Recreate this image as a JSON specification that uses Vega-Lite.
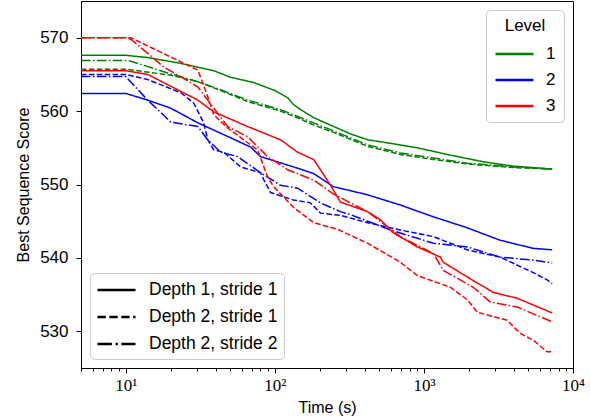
{
  "$schema": "https://vega.github.io/schema/vega-lite/v6.json",
  "autosize": "none",
  "width": 492,
  "height": 367,
  "padding": {"left": 81, "top": 1, "right": 17, "bottom": 51},
  "background": "white",
  "config": {
    "view": {"stroke": "black", "strokeWidth": 1},
    "font": "Liberation Sans",
    "axis": {"domainColor": "black", "tickColor": "black", "labelColor": "black", "titleColor": "black", "grid": false, "titleFontWeight": "normal", "titleFont": "Liberation Sans"}
  },
  "datasets": {
    "runs": [
      {"t": 5, "score": 567.6, "level": "1", "style": "Depth 1, stride 1"},
      {"t": 10, "score": 567.6, "level": "1", "style": "Depth 1, stride 1"},
      {"t": 14, "score": 567.3, "level": "1", "style": "Depth 1, stride 1"},
      {"t": 23.4, "score": 566.5, "level": "1", "style": "Depth 1, stride 1"},
      {"t": 38.9, "score": 565.5, "level": "1", "style": "Depth 1, stride 1"},
      {"t": 50.5, "score": 564.6, "level": "1", "style": "Depth 1, stride 1"},
      {"t": 72, "score": 563.9, "level": "1", "style": "Depth 1, stride 1"},
      {"t": 100, "score": 562.8, "level": "1", "style": "Depth 1, stride 1"},
      {"t": 122, "score": 561.8, "level": "1", "style": "Depth 1, stride 1"},
      {"t": 133, "score": 560.9, "level": "1", "style": "Depth 1, stride 1"},
      {"t": 149, "score": 560.2, "level": "1", "style": "Depth 1, stride 1"},
      {"t": 182, "score": 559.1, "level": "1", "style": "Depth 1, stride 1"},
      {"t": 275, "score": 557.5, "level": "1", "style": "Depth 1, stride 1"},
      {"t": 321, "score": 556.9, "level": "1", "style": "Depth 1, stride 1"},
      {"t": 418, "score": 556.1, "level": "1", "style": "Depth 1, stride 1"},
      {"t": 600, "score": 555.6, "level": "1", "style": "Depth 1, stride 1"},
      {"t": 903, "score": 555.0, "level": "1", "style": "Depth 1, stride 1"},
      {"t": 1503, "score": 554.0, "level": "1", "style": "Depth 1, stride 1"},
      {"t": 2500, "score": 553.1, "level": "1", "style": "Depth 1, stride 1"},
      {"t": 4000, "score": 552.5, "level": "1", "style": "Depth 1, stride 1"},
      {"t": 7250, "score": 552.1, "level": "1", "style": "Depth 1, stride 1"},

      {"t": 5, "score": 565.7, "level": "1", "style": "Depth 2, stride 1"},
      {"t": 10, "score": 565.7, "level": "1", "style": "Depth 2, stride 1"},
      {"t": 20, "score": 564.9, "level": "1", "style": "Depth 2, stride 1"},
      {"t": 30.4, "score": 564.0, "level": "1", "style": "Depth 2, stride 1"},
      {"t": 43.3, "score": 562.8, "level": "1", "style": "Depth 2, stride 1"},
      {"t": 65.6, "score": 561.3, "level": "1", "style": "Depth 2, stride 1"},
      {"t": 109, "score": 560.0, "level": "1", "style": "Depth 2, stride 1"},
      {"t": 149, "score": 558.9, "level": "1", "style": "Depth 2, stride 1"},
      {"t": 182, "score": 558.1, "level": "1", "style": "Depth 2, stride 1"},
      {"t": 247, "score": 557.1, "level": "1", "style": "Depth 2, stride 1"},
      {"t": 418, "score": 555.2, "level": "1", "style": "Depth 2, stride 1"},
      {"t": 695, "score": 554.1, "level": "1", "style": "Depth 2, stride 1"},
      {"t": 1156, "score": 553.4, "level": "1", "style": "Depth 2, stride 1"},
      {"t": 1954, "score": 552.8, "level": "1", "style": "Depth 2, stride 1"},
      {"t": 4000, "score": 552.3, "level": "1", "style": "Depth 2, stride 1"},
      {"t": 7250, "score": 552.1, "level": "1", "style": "Depth 2, stride 1"},

      {"t": 5, "score": 566.9, "level": "1", "style": "Depth 2, stride 2"},
      {"t": 10, "score": 566.9, "level": "1", "style": "Depth 2, stride 2"},
      {"t": 10.8, "score": 566.8, "level": "1", "style": "Depth 2, stride 2"},
      {"t": 19.1, "score": 565.2, "level": "1", "style": "Depth 2, stride 2"},
      {"t": 30.4, "score": 564.0, "level": "1", "style": "Depth 2, stride 2"},
      {"t": 43.3, "score": 562.9, "level": "1", "style": "Depth 2, stride 2"},
      {"t": 65.6, "score": 561.5, "level": "1", "style": "Depth 2, stride 2"},
      {"t": 109, "score": 560.2, "level": "1", "style": "Depth 2, stride 2"},
      {"t": 149, "score": 559.1, "level": "1", "style": "Depth 2, stride 2"},
      {"t": 182, "score": 558.4, "level": "1", "style": "Depth 2, stride 2"},
      {"t": 247, "score": 557.3, "level": "1", "style": "Depth 2, stride 2"},
      {"t": 418, "score": 555.4, "level": "1", "style": "Depth 2, stride 2"},
      {"t": 695, "score": 554.3, "level": "1", "style": "Depth 2, stride 2"},
      {"t": 1156, "score": 553.6, "level": "1", "style": "Depth 2, stride 2"},
      {"t": 1954, "score": 552.9, "level": "1", "style": "Depth 2, stride 2"},
      {"t": 4000, "score": 552.4, "level": "1", "style": "Depth 2, stride 2"},
      {"t": 7250, "score": 552.1, "level": "1", "style": "Depth 2, stride 2"},

      {"t": 5, "score": 562.4, "level": "2", "style": "Depth 1, stride 1"},
      {"t": 10, "score": 562.4, "level": "2", "style": "Depth 1, stride 1"},
      {"t": 14, "score": 561.5, "level": "2", "style": "Depth 1, stride 1"},
      {"t": 20, "score": 560.4, "level": "2", "style": "Depth 1, stride 1"},
      {"t": 30.4, "score": 558.4, "level": "2", "style": "Depth 1, stride 1"},
      {"t": 45.3, "score": 556.8, "level": "2", "style": "Depth 1, stride 1"},
      {"t": 68.7, "score": 555.1, "level": "2", "style": "Depth 1, stride 1"},
      {"t": 80.2, "score": 553.8, "level": "2", "style": "Depth 1, stride 1"},
      {"t": 133, "score": 552.4, "level": "2", "style": "Depth 1, stride 1"},
      {"t": 182, "score": 551.5, "level": "2", "style": "Depth 1, stride 1"},
      {"t": 247, "score": 549.7, "level": "2", "style": "Depth 1, stride 1"},
      {"t": 418, "score": 548.6, "level": "2", "style": "Depth 1, stride 1"},
      {"t": 695, "score": 547.2, "level": "2", "style": "Depth 1, stride 1"},
      {"t": 1156, "score": 545.6, "level": "2", "style": "Depth 1, stride 1"},
      {"t": 1954, "score": 544.1, "level": "2", "style": "Depth 1, stride 1"},
      {"t": 3250, "score": 542.4, "level": "2", "style": "Depth 1, stride 1"},
      {"t": 5410, "score": 541.3, "level": "2", "style": "Depth 1, stride 1"},
      {"t": 7250, "score": 541.1, "level": "2", "style": "Depth 1, stride 1"},

      {"t": 5, "score": 565.0, "level": "2", "style": "Depth 2, stride 1"},
      {"t": 10, "score": 565.0, "level": "2", "style": "Depth 2, stride 1"},
      {"t": 14, "score": 564.3, "level": "2", "style": "Depth 2, stride 1"},
      {"t": 23.4, "score": 562.5, "level": "2", "style": "Depth 2, stride 1"},
      {"t": 28.5, "score": 561.1, "level": "2", "style": "Depth 2, stride 1"},
      {"t": 33.3, "score": 558.4, "level": "2", "style": "Depth 2, stride 1"},
      {"t": 35.4, "score": 556.1, "level": "2", "style": "Depth 2, stride 1"},
      {"t": 38.9, "score": 554.7, "level": "2", "style": "Depth 2, stride 1"},
      {"t": 45.3, "score": 554.4, "level": "2", "style": "Depth 2, stride 1"},
      {"t": 58.9, "score": 552.4, "level": "2", "style": "Depth 2, stride 1"},
      {"t": 80.2, "score": 551.6, "level": "2", "style": "Depth 2, stride 1"},
      {"t": 84, "score": 550.7, "level": "2", "style": "Depth 2, stride 1"},
      {"t": 93.6, "score": 548.9, "level": "2", "style": "Depth 2, stride 1"},
      {"t": 133, "score": 547.9, "level": "2", "style": "Depth 2, stride 1"},
      {"t": 173, "score": 547.5, "level": "2", "style": "Depth 2, stride 1"},
      {"t": 202, "score": 546.1, "level": "2", "style": "Depth 2, stride 1"},
      {"t": 275, "score": 545.8, "level": "2", "style": "Depth 2, stride 1"},
      {"t": 418, "score": 544.8, "level": "2", "style": "Depth 2, stride 1"},
      {"t": 695, "score": 543.8, "level": "2", "style": "Depth 2, stride 1"},
      {"t": 1156, "score": 542.9, "level": "2", "style": "Depth 2, stride 1"},
      {"t": 1954, "score": 541.1, "level": "2", "style": "Depth 2, stride 1"},
      {"t": 3250, "score": 540.1, "level": "2", "style": "Depth 2, stride 1"},
      {"t": 5410, "score": 538.0, "level": "2", "style": "Depth 2, stride 1"},
      {"t": 6710, "score": 537.0, "level": "2", "style": "Depth 2, stride 1"},
      {"t": 7250, "score": 536.5, "level": "2", "style": "Depth 2, stride 1"},

      {"t": 5, "score": 564.7, "level": "2", "style": "Depth 2, stride 2"},
      {"t": 10, "score": 564.7, "level": "2", "style": "Depth 2, stride 2"},
      {"t": 14, "score": 561.5, "level": "2", "style": "Depth 2, stride 2"},
      {"t": 17.2, "score": 559.8, "level": "2", "style": "Depth 2, stride 2"},
      {"t": 20, "score": 558.5, "level": "2", "style": "Depth 2, stride 2"},
      {"t": 30.4, "score": 557.9, "level": "2", "style": "Depth 2, stride 2"},
      {"t": 35.4, "score": 556.1, "level": "2", "style": "Depth 2, stride 2"},
      {"t": 43.3, "score": 554.4, "level": "2", "style": "Depth 2, stride 2"},
      {"t": 56.3, "score": 553.8, "level": "2", "style": "Depth 2, stride 2"},
      {"t": 80.2, "score": 551.6, "level": "2", "style": "Depth 2, stride 2"},
      {"t": 109, "score": 549.9, "level": "2", "style": "Depth 2, stride 2"},
      {"t": 142, "score": 549.5, "level": "2", "style": "Depth 2, stride 2"},
      {"t": 202, "score": 547.5, "level": "2", "style": "Depth 2, stride 2"},
      {"t": 275, "score": 546.3, "level": "2", "style": "Depth 2, stride 2"},
      {"t": 321, "score": 545.9, "level": "2", "style": "Depth 2, stride 2"},
      {"t": 596, "score": 543.8, "level": "2", "style": "Depth 2, stride 2"},
      {"t": 1156, "score": 542.0, "level": "2", "style": "Depth 2, stride 2"},
      {"t": 1954, "score": 541.5, "level": "2", "style": "Depth 2, stride 2"},
      {"t": 3250, "score": 540.1, "level": "2", "style": "Depth 2, stride 2"},
      {"t": 5410, "score": 539.7, "level": "2", "style": "Depth 2, stride 2"},
      {"t": 7250, "score": 539.3, "level": "2", "style": "Depth 2, stride 2"},

      {"t": 5, "score": 565.5, "level": "3", "style": "Depth 1, stride 1"},
      {"t": 10, "score": 565.5, "level": "3", "style": "Depth 1, stride 1"},
      {"t": 14, "score": 565.0, "level": "3", "style": "Depth 1, stride 1"},
      {"t": 30.4, "score": 561.5, "level": "3", "style": "Depth 1, stride 1"},
      {"t": 38.9, "score": 559.9, "level": "3", "style": "Depth 1, stride 1"},
      {"t": 65.6, "score": 557.9, "level": "3", "style": "Depth 1, stride 1"},
      {"t": 109, "score": 556.1, "level": "3", "style": "Depth 1, stride 1"},
      {"t": 142, "score": 554.4, "level": "3", "style": "Depth 1, stride 1"},
      {"t": 182, "score": 553.4, "level": "3", "style": "Depth 1, stride 1"},
      {"t": 202, "score": 552.0, "level": "3", "style": "Depth 1, stride 1"},
      {"t": 236, "score": 549.9, "level": "3", "style": "Depth 1, stride 1"},
      {"t": 275, "score": 547.6, "level": "3", "style": "Depth 1, stride 1"},
      {"t": 418, "score": 546.3, "level": "3", "style": "Depth 1, stride 1"},
      {"t": 510, "score": 545.2, "level": "3", "style": "Depth 1, stride 1"},
      {"t": 624, "score": 543.4, "level": "3", "style": "Depth 1, stride 1"},
      {"t": 903, "score": 541.5, "level": "3", "style": "Depth 1, stride 1"},
      {"t": 1288, "score": 540.1, "level": "3", "style": "Depth 1, stride 1"},
      {"t": 1349, "score": 539.4, "level": "3", "style": "Depth 1, stride 1"},
      {"t": 1954, "score": 537.4, "level": "3", "style": "Depth 1, stride 1"},
      {"t": 2917, "score": 535.3, "level": "3", "style": "Depth 1, stride 1"},
      {"t": 4227, "score": 534.5, "level": "3", "style": "Depth 1, stride 1"},
      {"t": 7250, "score": 532.5, "level": "3", "style": "Depth 1, stride 1"},

      {"t": 5, "score": 570.0, "level": "3", "style": "Depth 2, stride 1"},
      {"t": 10, "score": 570.0, "level": "3", "style": "Depth 2, stride 1"},
      {"t": 10.8, "score": 570.0, "level": "3", "style": "Depth 2, stride 1"},
      {"t": 23.4, "score": 566.7, "level": "3", "style": "Depth 2, stride 1"},
      {"t": 30.4, "score": 565.6, "level": "3", "style": "Depth 2, stride 1"},
      {"t": 35.4, "score": 562.0, "level": "3", "style": "Depth 2, stride 1"},
      {"t": 38.9, "score": 559.5, "level": "3", "style": "Depth 2, stride 1"},
      {"t": 48.2, "score": 557.7, "level": "3", "style": "Depth 2, stride 1"},
      {"t": 76.6, "score": 554.7, "level": "3", "style": "Depth 2, stride 1"},
      {"t": 89.4, "score": 551.0, "level": "3", "style": "Depth 2, stride 1"},
      {"t": 98, "score": 549.7, "level": "3", "style": "Depth 2, stride 1"},
      {"t": 133, "score": 546.9, "level": "3", "style": "Depth 2, stride 1"},
      {"t": 182, "score": 544.8, "level": "3", "style": "Depth 2, stride 1"},
      {"t": 263, "score": 543.9, "level": "3", "style": "Depth 2, stride 1"},
      {"t": 418, "score": 542.0, "level": "3", "style": "Depth 2, stride 1"},
      {"t": 695, "score": 539.4, "level": "3", "style": "Depth 2, stride 1"},
      {"t": 903, "score": 537.6, "level": "3", "style": "Depth 2, stride 1"},
      {"t": 1503, "score": 536.0, "level": "3", "style": "Depth 2, stride 1"},
      {"t": 1954, "score": 534.3, "level": "3", "style": "Depth 2, stride 1"},
      {"t": 2280, "score": 532.6, "level": "3", "style": "Depth 2, stride 1"},
      {"t": 3623, "score": 531.5, "level": "3", "style": "Depth 2, stride 1"},
      {"t": 4427, "score": 529.7, "level": "3", "style": "Depth 2, stride 1"},
      {"t": 5410, "score": 528.8, "level": "3", "style": "Depth 2, stride 1"},
      {"t": 6710, "score": 527.2, "level": "3", "style": "Depth 2, stride 1"},
      {"t": 7250, "score": 527.2, "level": "3", "style": "Depth 2, stride 1"},

      {"t": 5, "score": 570.0, "level": "3", "style": "Depth 2, stride 2"},
      {"t": 10, "score": 570.0, "level": "3", "style": "Depth 2, stride 2"},
      {"t": 10.8, "score": 569.8, "level": "3", "style": "Depth 2, stride 2"},
      {"t": 18, "score": 566.0, "level": "3", "style": "Depth 2, stride 2"},
      {"t": 30.4, "score": 563.3, "level": "3", "style": "Depth 2, stride 2"},
      {"t": 35.4, "score": 561.5, "level": "3", "style": "Depth 2, stride 2"},
      {"t": 48.2, "score": 557.9, "level": "3", "style": "Depth 2, stride 2"},
      {"t": 65.6, "score": 556.5, "level": "3", "style": "Depth 2, stride 2"},
      {"t": 89.4, "score": 553.8, "level": "3", "style": "Depth 2, stride 2"},
      {"t": 122, "score": 552.0, "level": "3", "style": "Depth 2, stride 2"},
      {"t": 182, "score": 550.6, "level": "3", "style": "Depth 2, stride 2"},
      {"t": 247, "score": 548.7, "level": "3", "style": "Depth 2, stride 2"},
      {"t": 418, "score": 546.3, "level": "3", "style": "Depth 2, stride 2"},
      {"t": 695, "score": 542.9, "level": "3", "style": "Depth 2, stride 2"},
      {"t": 1156, "score": 540.6, "level": "3", "style": "Depth 2, stride 2"},
      {"t": 1349, "score": 538.3, "level": "3", "style": "Depth 2, stride 2"},
      {"t": 2143, "score": 536.0, "level": "3", "style": "Depth 2, stride 2"},
      {"t": 2785, "score": 534.0, "level": "3", "style": "Depth 2, stride 2"},
      {"t": 4227, "score": 533.3, "level": "3", "style": "Depth 2, stride 2"},
      {"t": 7250, "score": 531.3, "level": "3", "style": "Depth 2, stride 2"}
    ]
  },
  "data": {"name": "runs"},
  "encoding": {
    "x": {
      "field": "t", "type": "quantitative",
      "scale": {"type": "log", "domain": [5, 10000], "nice": false},
      "axis": {
        "title": "Time (s)", "titleFontSize": 16, "titlePadding": 6,
        "values": [5,6,7,8,9,10,20,30,40,50,60,70,80,90,100,200,300,400,500,600,700,800,900,1000,2000,3000,4000,5000,6000,7000,8000,9000,10000],
        "tickSize": {"condition": {"test": "abs(log(datum.value)/LN10 - round(log(datum.value)/LN10)) < 0.001", "value": 5}, "value": 3},
        "labelExpr": "datum.value == 10 ? '10¹' : datum.value == 100 ? '10²' : datum.value == 1000 ? '10³' : datum.value == 10000 ? '10⁴' : ''",
        "labelFont": "Liberation Serif", "labelFontSize": 17, "labelPadding": 4,
        "labelOverlap": false, "labelFlush": false
      }
    },
    "y": {
      "field": "score", "type": "quantitative",
      "scale": {"domain": [525, 575], "nice": false, "zero": false},
      "axis": {
        "title": "Best Sequence Score", "titleFontSize": 16, "titlePadding": 8,
        "values": [530, 540, 550, 560, 570], "tickSize": 5,
        "labelFontSize": 17, "labelPadding": 8
      }
    }
  },
  "layer": [
    {
      "mark": {"type": "line", "strokeWidth": 1.5, "clip": true},
      "encoding": {
        "color": {
          "field": "level", "type": "nominal",
          "scale": {"domain": ["1", "2", "3"], "range": ["#008000", "#0000ff", "#ff0000"]},
          "legend": {
            "title": "Level", "orient": "top-right", "offset": 9,
            "titleFontSize": 17, "titleFontWeight": "normal", "titleAnchor": "middle", "titleColor": "black", "titlePadding": 8,
            "labelFontSize": 17, "labelColor": "black", "labelOffset": 30,
            "symbolType": "M-1,0H3", "symbolSize": 361, "symbolStrokeWidth": 2.5,
            "rowPadding": 7, "padding": 8,
            "strokeColor": "#cccccc", "fillColor": "white", "cornerRadius": 4
          }
        },
        "strokeDash": {
          "field": "style", "type": "nominal",
          "scale": {"domain": ["Depth 1, stride 1", "Depth 2, stride 1", "Depth 2, stride 2"], "range": [[1, 0], [5.5, 2.4], [9.6, 2.4, 1.5, 2.4]]},
          "legend": null
        }
      }
    },
    {
      "mark": {"type": "line", "strokeWidth": 0, "clip": true},
      "encoding": {
        "strokeDash": {
          "field": "style", "type": "nominal",
          "scale": {"domain": ["Depth 1, stride 1", "Depth 2, stride 1", "Depth 2, stride 2"], "range": [[1, 0], [8.3, 3.6], [14.4, 3.6, 2.3, 3.6]]},
          "legend": {
            "title": null, "orient": "bottom-left", "offset": 9,
            "labelFontSize": 17.5, "labelColor": "black", "labelOffset": 31,
            "labelExpr": "datum.label + '   '",
            "symbolType": "M-1,0H3", "symbolSize": 361, "symbolStrokeWidth": 2.5, "symbolStrokeColor": "black",
            "rowPadding": 7, "padding": 6,
            "strokeColor": "#cccccc", "fillColor": "white", "cornerRadius": 4
          }
        }
      }
    }
  ],
  "resolve": {"scale": {"strokeDash": "independent"}, "legend": {"strokeDash": "independent"}}
}
